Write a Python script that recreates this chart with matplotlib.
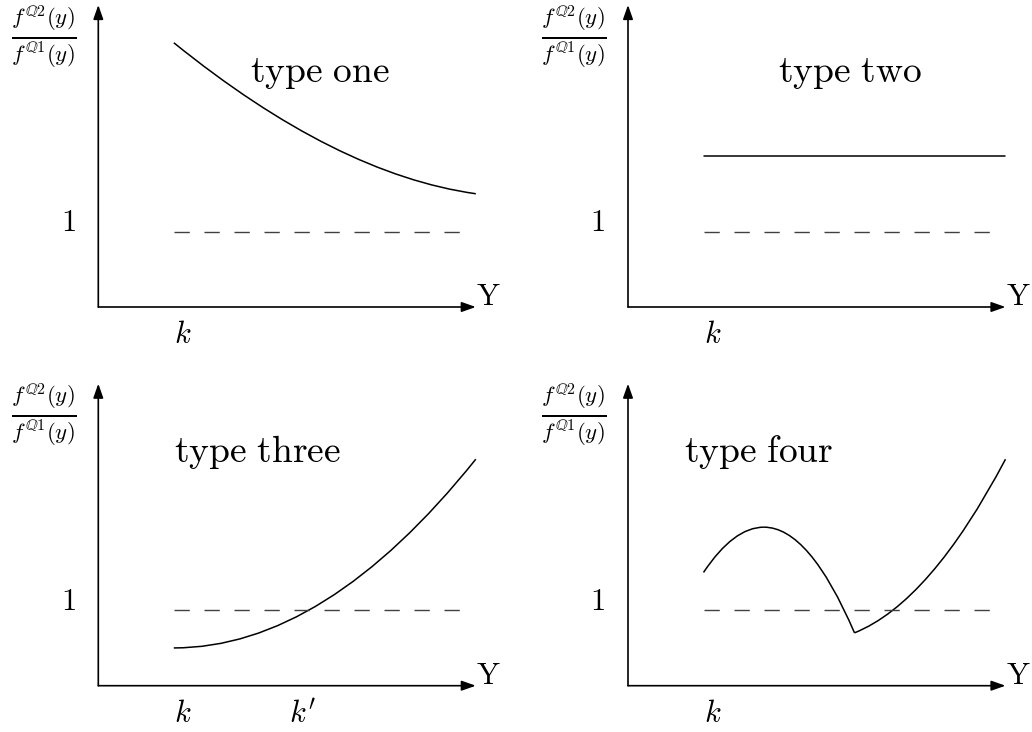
import matplotlib as mpl
import matplotlib.pyplot as plt
from matplotlib.path import Path
from matplotlib.patches import PathPatch

mpl.rcParams["mathtext.fontset"] = "cm"

W, H = 1032, 732
UNIT = 75.5  # pixels per data unit

# panel origins (pixels, measured from the top-left corner)
origins = [(98.3, 307.0), (628.0, 307.0), (98.3, 685.7), (628.0, 685.7)]
titles = ["type one", "type two", "type three", "type four"]
title_pos = [(2.94, 3.1), (2.94, 3.1), (2.11, 3.1), (1.73, 3.1)]

X_END = 5.0
Y_END = 4.0
ONE_LEVEL = 1.0
DASH_START = 1.0
DASH_END = 4.8

# quadratic Bezier segments: start, control, end
type_one = [[(1.0, 3.5), (3.15, 1.76), (5.0, 1.5)]]
type_two = [[(1.0, 2.0), (3.0, 2.0), (5.0, 2.0)]]
type_three = [[(1.0, 0.5), (3.0, 0.5), (5.0, 3.0)]]
type_four = [
    [(1.0, 1.5), (1.4, 2.1), (1.8, 2.1)],
    [(1.8, 2.1), (2.4, 2.1), (3.0, 0.7)],
    [(3.0, 0.7), (4.0, 1.1), (5.0, 3.0)],
]
curves = [type_one, type_two, type_three, type_four]

# labels under the Y axis: (text, x)
k_labels = [
    [("$k$", 1.0)],
    [("$k$", 1.0)],
    [("$k$", 1.0), ("$k'$", 2.52)],
    [("$k$", 1.0)],
]

XLIM = (-1.25, 5.8)
YLIM = (-0.9, 4.15)

fig = plt.figure(figsize=(W / 100, H / 100), dpi=100)


def panel_axes(ox, oy):
    left = ox + XLIM[0] * UNIT
    right = ox + XLIM[1] * UNIT
    top = oy - YLIM[1] * UNIT
    bottom = oy - YLIM[0] * UNIT
    ax = fig.add_axes([left / W, 1 - bottom / H, (right - left) / W, (bottom - top) / H])
    ax.set_xlim(*XLIM)
    ax.set_ylim(*YLIM)
    ax.axis("off")
    return ax


arrow = dict(arrowstyle="-|>,head_length=0.85,head_width=0.3", lw=1.2, color="black",
             shrinkA=0, shrinkB=0, mutation_scale=10)

for (ox, oy), title, tpos, segs, ks in zip(origins, titles, title_pos, curves, k_labels):
    ax = panel_axes(ox, oy)

    # axes with arrow heads
    ax.annotate("", xy=(X_END, 0), xytext=(0, 0), arrowprops=arrow, annotation_clip=False)
    ax.annotate("", xy=(0, Y_END), xytext=(0, 0), arrowprops=arrow, annotation_clip=False)

    # reference level 1
    ax.plot([DASH_START, DASH_END], [ONE_LEVEL, ONE_LEVEL], color="0.25", lw=1.0,
            linestyle=(0, (11, 10.6)), clip_on=False)

    # likelihood ratio curve
    for seg in segs:
        path = Path(seg, [Path.MOVETO, Path.CURVE3, Path.CURVE3])
        ax.add_patch(PathPatch(path, facecolor="none", edgecolor="black", lw=1.1, clip_on=False))

    ax.text(tpos[0], tpos[1], r"$\mathrm{" + title.replace(" ", r"\ ") + "}$",
            fontsize=27, ha="center", va="center")
    ax.text(X_END, 0.14, r"$\mathrm{Y}$", fontsize=22, ha="left", va="center")
    ax.text(-0.4, 1.12, r"$1$", fontsize=22, ha="center", va="center")
    ax.text(-0.28, 3.58, "$\\frac{f^{\u211a2}(y)}{f^{\u211a1}(y)}$",
            fontsize=23.5, ha="right", va="center")
    for lab, kx in ks:
        ax.text(kx, -0.37, lab, fontsize=22, ha="left", va="center")

fig.savefig("out.png", dpi=100)
